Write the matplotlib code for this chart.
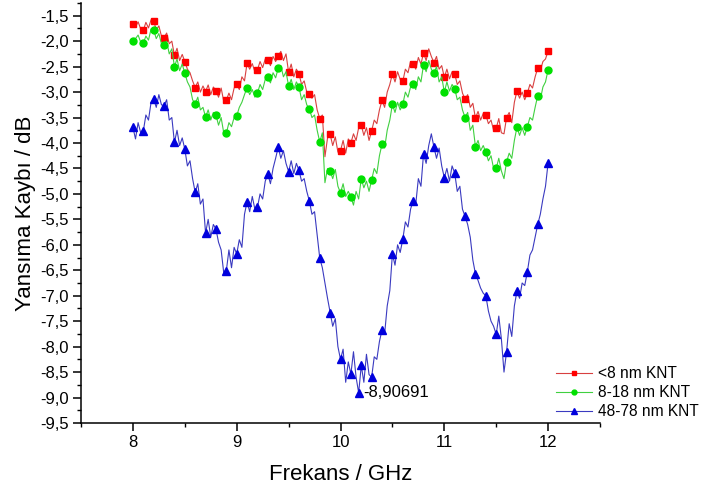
import matplotlib
matplotlib.use("Agg")
import matplotlib.pyplot as plt
from matplotlib.ticker import MultipleLocator, FuncFormatter
import numpy as np

plt.rcParams["font.family"] = ["Liberation Sans", "DejaVu Sans"]

# ---------- data (0.025 GHz step, markers every 0.1 GHz) ----------
freq = np.round(np.arange(161) * 0.025 + 8.0, 3)

red_db = [
    -1.66, -1.72, -1.62, -1.76,  -1.79, -1.63, -1.74, -1.58,
    -1.60, -1.78, -1.70, -1.90,  -1.93, -1.84, -2.05, -2.00,
    -2.28, -2.14, -2.38, -2.26,  -2.40, -2.55, -2.62, -2.78,
    -2.91, -2.80, -3.00, -2.88,  -2.99, -2.86, -3.05, -2.90,
    -2.97, -3.10, -2.92, -3.18,  -3.16, -3.02, -3.15, -2.92,
    -2.84, -2.95, -2.70, -2.78,  -2.43, -2.55, -2.44, -2.60,
    -2.56, -2.40, -2.52, -2.35,  -2.36, -2.48, -2.30, -2.40,
    -2.29, -2.20, -2.38, -2.25,  -2.61, -2.45, -2.70, -2.55,
    -2.64, -2.85, -2.78, -3.00,  -3.04, -3.12, -3.05, -3.35,
    -3.52, -3.45, -4.27, -3.90,  -3.83, -4.05, -3.88, -4.18,
    -4.15, -3.95, -4.20, -3.92,  -4.00, -3.82, -3.95, -3.70,
    -3.65, -3.85, -3.70, -3.95,  -3.76, -3.55, -3.62, -3.35,
    -3.16, -3.30, -3.00, -2.85,  -2.64, -2.80, -2.60, -2.75,
    -2.79, -2.55, -2.62, -2.40,  -2.44, -2.55, -2.32, -2.45,
    -2.23, -2.38, -2.15, -2.30,  -2.42, -2.30, -2.55, -2.48,
    -2.71, -2.55, -2.74, -2.60,  -2.64, -2.85, -2.78, -3.02,
    -3.14, -3.05, -3.30, -3.22,  -3.51, -3.38, -3.55, -3.42,
    -3.45, -3.62, -3.55, -3.75,  -3.71, -3.52, -3.80, -3.82,
    -3.50, -3.40, -3.60, -3.20,  -2.98, -3.12, -3.00, -3.15,
    -3.02, -2.85, -2.92, -2.70,  -2.53, -2.58, -2.40, -2.35,
    -2.19,
]

green_db = [
    -1.99, -1.95, -1.88, -2.02,  -2.04, -1.90, -1.98, -1.76,
    -1.78, -1.95, -1.85, -2.05,  -2.07, -2.00, -2.25, -2.15,
    -2.50, -2.35, -2.58, -2.45,  -2.63, -2.80, -2.90, -3.15,
    -3.23, -3.10, -3.35, -3.30,  -3.49, -3.35, -3.55, -3.40,
    -3.45, -3.65, -3.50, -3.80,  -3.81, -3.60, -3.68, -3.50,
    -3.47, -3.30, -3.20, -3.05,  -2.91, -3.05, -2.95, -3.10,
    -3.02, -2.85, -2.95, -2.75,  -2.71, -2.82, -2.62, -2.72,
    -2.53, -2.48, -2.70, -2.60,  -2.88, -2.75, -2.95, -2.80,
    -2.90, -3.15, -3.05, -3.25,  -3.33, -3.50, -3.45, -3.75,
    -3.98, -3.80, -4.78, -4.50,  -4.55, -4.70, -4.52, -4.85,
    -4.98, -4.80, -5.05, -4.95,  -5.06, -5.22, -4.95, -5.10,
    -4.70, -4.88, -4.75, -4.95,  -4.72, -4.50, -4.60, -4.25,
    -4.02, -4.10, -3.75, -3.55,  -3.24, -3.40, -3.20, -3.35,
    -3.24, -3.00, -3.10, -2.90,  -2.84, -2.95, -2.70, -2.80,
    -2.46, -2.60, -2.38, -2.55,  -2.63, -2.50, -2.80, -2.70,
    -3.00, -2.80, -2.98, -2.85,  -2.93, -3.15, -3.10, -3.35,
    -3.50, -3.40, -3.75, -3.65,  -4.07, -3.95, -4.15, -4.05,
    -4.18, -4.35, -4.25, -4.50,  -4.50, -4.30, -4.55, -4.70,
    -4.37, -4.20, -4.30, -3.95,  -3.69, -3.85, -3.70, -3.85,
    -3.68, -3.50, -3.55, -3.30,  -3.07, -3.15, -2.90, -2.80,
    -2.56,
]

blue_db = [
    -3.69, -3.92, -3.60, -3.80,  -3.77, -3.45, -3.55, -3.20,
    -3.13, -3.30, -3.05, -3.25,  -3.27, -3.15, -3.55, -3.50,
    -3.99, -3.75, -4.05, -3.90,  -4.12, -4.45, -4.35, -4.70,
    -4.97, -4.80, -5.20, -5.10,  -5.77, -5.50, -5.85, -5.60,
    -5.69, -5.95, -6.10, -6.55,  -6.51, -6.10, -6.45, -6.05,
    -6.18, -5.90, -6.05, -5.40,  -5.15, -5.35, -5.05, -5.30,
    -5.26, -5.00, -5.10, -4.75,  -4.61, -4.80, -4.50, -4.30,
    -4.08, -4.30, -4.15, -4.40,  -4.56, -4.35, -4.60, -4.40,
    -4.54, -4.75, -4.70, -4.95,  -5.14, -5.40, -5.35, -5.80,
    -6.26, -6.45, -6.75, -7.05,  -7.33, -7.60, -7.45, -8.00,
    -8.25, -8.05, -8.70, -8.30,  -8.54, -8.10, -8.60, -8.90691,
    -8.37, -8.70, -8.15, -8.55,  -8.60, -8.20, -8.25, -7.90,
    -7.67, -7.75, -7.20, -6.90,  -6.18, -6.40, -6.00, -6.15,
    -5.89, -5.55, -5.65, -5.30,  -5.13, -5.20, -4.70, -4.85,
    -4.21, -4.40, -4.05, -3.82,  -4.08, -4.30, -4.10, -4.45,
    -4.68, -4.50, -4.75, -4.45,  -4.59, -4.95, -4.85, -5.30,
    -5.44, -5.60, -5.85, -6.30,  -6.57, -6.70, -6.85, -6.95,
    -7.00, -7.30, -7.50, -7.60,  -7.76, -7.40, -7.85, -8.50,
    -8.10, -7.55, -7.80, -7.20,  -6.91, -7.05, -6.75, -6.80,
    -6.53, -6.20, -6.10, -5.85,  -5.60, -5.40, -5.10, -4.85,
    -4.39,
]

labels = ["<8 nm KNT", "8-18 nm KNT", "48-78 nm KNT"]
min_freq = 10.175
min_db = -8.90691

# ---------- plot ----------
fig = plt.figure(figsize=(7.02, 4.99), dpi=100)
ax = fig.add_axes([0.1154, 0.1523, 0.7393, 0.8417])

ax.plot(freq, red_db, color="#d84040", lw=0.8, marker="s", ms=4.5,
        mfc="#ff0000", mec="#ff0000", markevery=4, label=labels[0])
ax.plot(freq, green_db, color="#40d040", lw=0.8, marker="o", ms=5,
        mfc="#00e000", mec="#00e000", markevery=4, label=labels[1])
ax.plot(freq, blue_db, color="#3a3ac0", lw=0.8, marker="^", ms=5.5,
        mfc="#0000dd", mec="#0000dd", markevery=4, label=labels[2])

# data reader point at the minimum
ax.plot([min_freq], [min_db], marker="^", ms=5.5, color="#0000dd", ls="none")
ax.annotate(f"{min_db:.5f}".replace(".", ","), (min_freq, min_db),
            xytext=(3, 0), textcoords="offset points", va="center",
            ha="left", fontsize=12)

ax.set_xlim(7.5, 12.5)
ax.set_ylim(-9.5, -1.25)
ax.xaxis.set_major_locator(MultipleLocator(1))
ax.xaxis.set_minor_locator(MultipleLocator(0.5))
ax.yaxis.set_major_locator(MultipleLocator(0.5))
ax.yaxis.set_minor_locator(MultipleLocator(0.25))
ax.yaxis.set_major_formatter(FuncFormatter(lambda v, p: f"{v:.1f}".replace(".", ",")))
ax.xaxis.set_major_formatter(FuncFormatter(lambda v, p: f"{v:.0f}" if 7.9 < v < 12.1 else ""))

ax.spines["top"].set_visible(False)
ax.spines["right"].set_visible(False)
ax.spines["left"].set_linewidth(1.1)
ax.spines["bottom"].set_linewidth(1.1)
ax.tick_params(which="major", direction="out", length=5.5, width=1.1, labelsize=12, pad=3)
ax.tick_params(which="minor", direction="out", length=3, width=1.0)

ax.set_xlabel("Frekans / GHz", fontsize=16, labelpad=10)
ax.set_ylabel("Yansıma Kaybı / dB", fontsize=16, labelpad=3)

fig.legend(loc="upper left", bbox_to_anchor=(0.792, 0.266), frameon=False,
           fontsize=11.2, handlelength=2.3, handletextpad=0.4, labelspacing=0.25,
           borderpad=0, borderaxespad=0, markerscale=0.7)

fig.savefig("out.png", dpi=100)
